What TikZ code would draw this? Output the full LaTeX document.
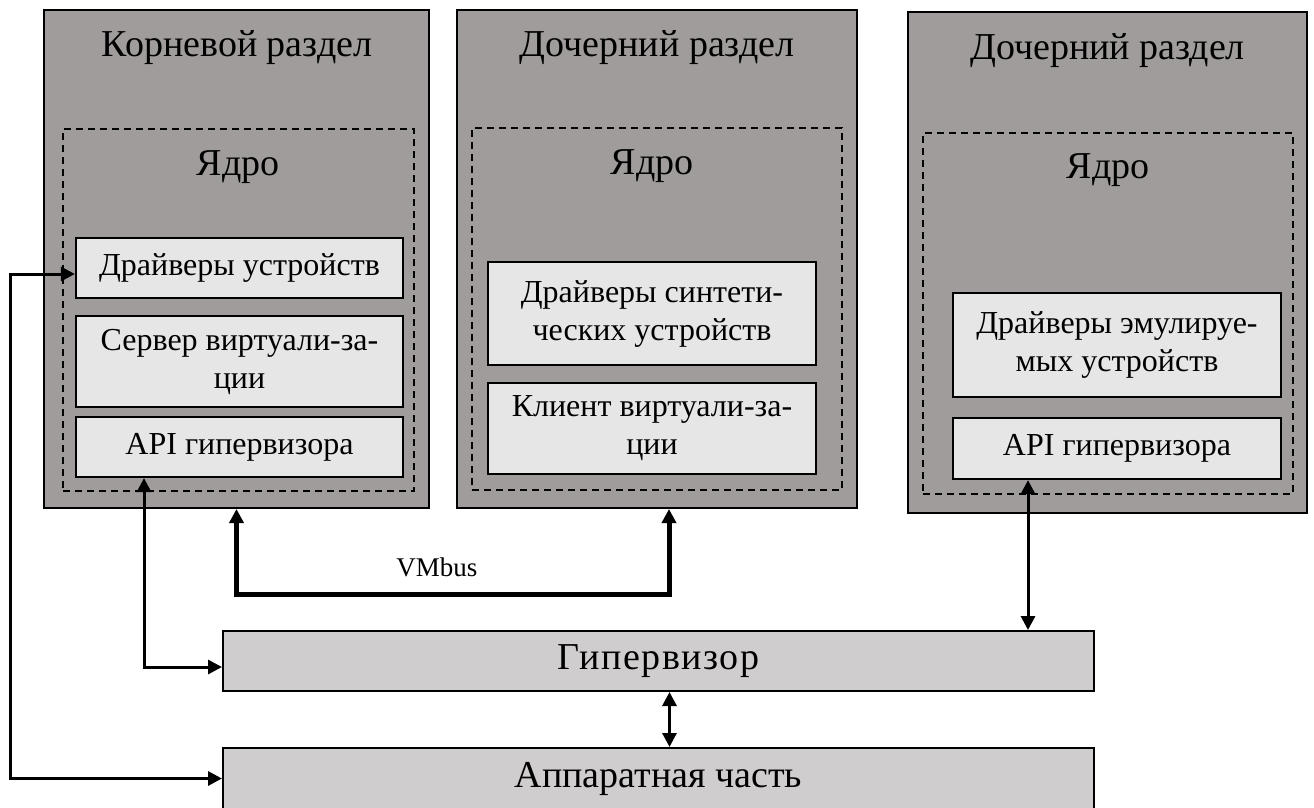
\documentclass[tikz,border=0pt]{standalone}
\usepackage{fontspec}
\setmainfont{Liberation Serif}
\usetikzlibrary{arrows.meta, positioning}
\definecolor{partgray}{RGB}{160,156,155}
\definecolor{modgray}{RGB}{230,230,230}
\definecolor{hvgray}{RGB}{208,205,206}

\begin{document}
\begin{tikzpicture}[
  x=1pt, y=-1pt,
  part/.style={rectangle, draw, line width=2pt, fill=partgray, inner sep=0pt},
  kernel/.style={rectangle, draw, line width=1.8pt, dash pattern=on 7pt off 5pt, inner sep=0pt},
  module/.style={rectangle, draw, line width=2.2pt, fill=modgray, align=center, inner sep=0pt, font=\fontsize{32}{38}\selectfont},
  layer/.style={rectangle, draw, line width=2pt, fill=hvgray, inner sep=0pt, font=\fontsize{38}{44}\selectfont},
  title/.style={inner sep=0pt, anchor=base, font=\fontsize{38}{44}\selectfont},
  arr/.style={{Triangle[length=14pt,width=14pt]}-{Triangle[length=14pt,width=14pt]}, line width=3pt},
  bus/.style={arr, line width=5pt},
]
\useasboundingbox (0,0) rectangle (1314,807);

% Partitions
\node[part, minimum width=385pt, minimum height=498pt] (root) at (236.5,259) {};
\node[part, minimum width=400pt, minimum height=498pt] (child) at (657,259) {};
\node[part, minimum width=399pt, minimum height=501pt] (emul) at (1107.5,262.5) {};
\node[title] (roottitle) at (237,56) {Корневой раздел};
\node[title] (childtitle) at (657,56) {Дочерний раздел};
\node[title] (emultitle) at (1107.5,59) {Дочерний раздел};

% Kernels
\node[kernel, minimum width=351pt, minimum height=362pt] (rootkern) at (238.5,310) {};
\node[kernel, minimum width=370pt, minimum height=362pt] (childkern) at (657,309) {};
\node[kernel, minimum width=370pt, minimum height=361pt] (emulkern) at (1108,313.5) {};
\node[title] (rootcore) at (238,175) {Ядро};
\node[title] (childcore) at (652,174) {Ядро};
\node[title] (emulcore) at (1108,178) {Ядро};

% Root partition modules
\node[module, minimum width=327pt, minimum height=60pt] (drv) at (239.5,268) {Драйверы устройств};
\node[module, minimum width=327pt, minimum height=91pt] (vsp) at (239.5,361.5) {Сервер виртуали-за-\\ции};
\node[module, minimum width=327pt, minimum height=60pt] (rootapi) at (239.5,447) {API гипервизора};

% Child partition modules
\node[module, minimum width=328pt, minimum height=103pt] (synth) at (652,313.5) {Драйверы синтети-\\ческих устройств};
\node[module, minimum width=328pt, minimum height=91pt] (vsc) at (652,428.5) {Клиент виртуали-за-\\ции};

% Emulated partition modules
\node[module, minimum width=328pt, minimum height=104pt] (emuldrv) at (1117,345) {Драйверы эмулируе-\\мых устройств};
\node[module, minimum width=328pt, minimum height=61pt] (emulapi) at (1117,448.5) {API гипервизора};

% Layers
\node[layer, minimum width=871pt, minimum height=60pt] (hyp) at (658.5,661) {\addfontfeature{LetterSpace=4}Гипервизор};
\node[layer, minimum width=871pt, minimum height=61pt] (hw) at (658.5,778.5) {Аппаратная часть};

% Arrows
\draw[arr] ([yshift=-6pt]drv.west) -- ++(-64,0) |- (hw.west);
\draw[arr] ([xshift=-95.5pt]rootapi.south) |- ([yshift=-6pt]hyp.west);
\draw[bus] (root.south) -- ++(0,85) -| ([xshift=12pt]child.south);
\node[inner sep=0pt, font=\fontsize{27}{32}\selectfont] (vmbus) at (437,567) {VMbus};
\draw[arr] ([xshift=-89pt]emulapi.south) -- ([xshift=-89pt]emulapi.south |- hyp.north);
\draw[arr] ([xshift=11pt]hyp.south) -- ([xshift=11pt]hyp.south |- hw.north);
\end{tikzpicture}
\end{document}
